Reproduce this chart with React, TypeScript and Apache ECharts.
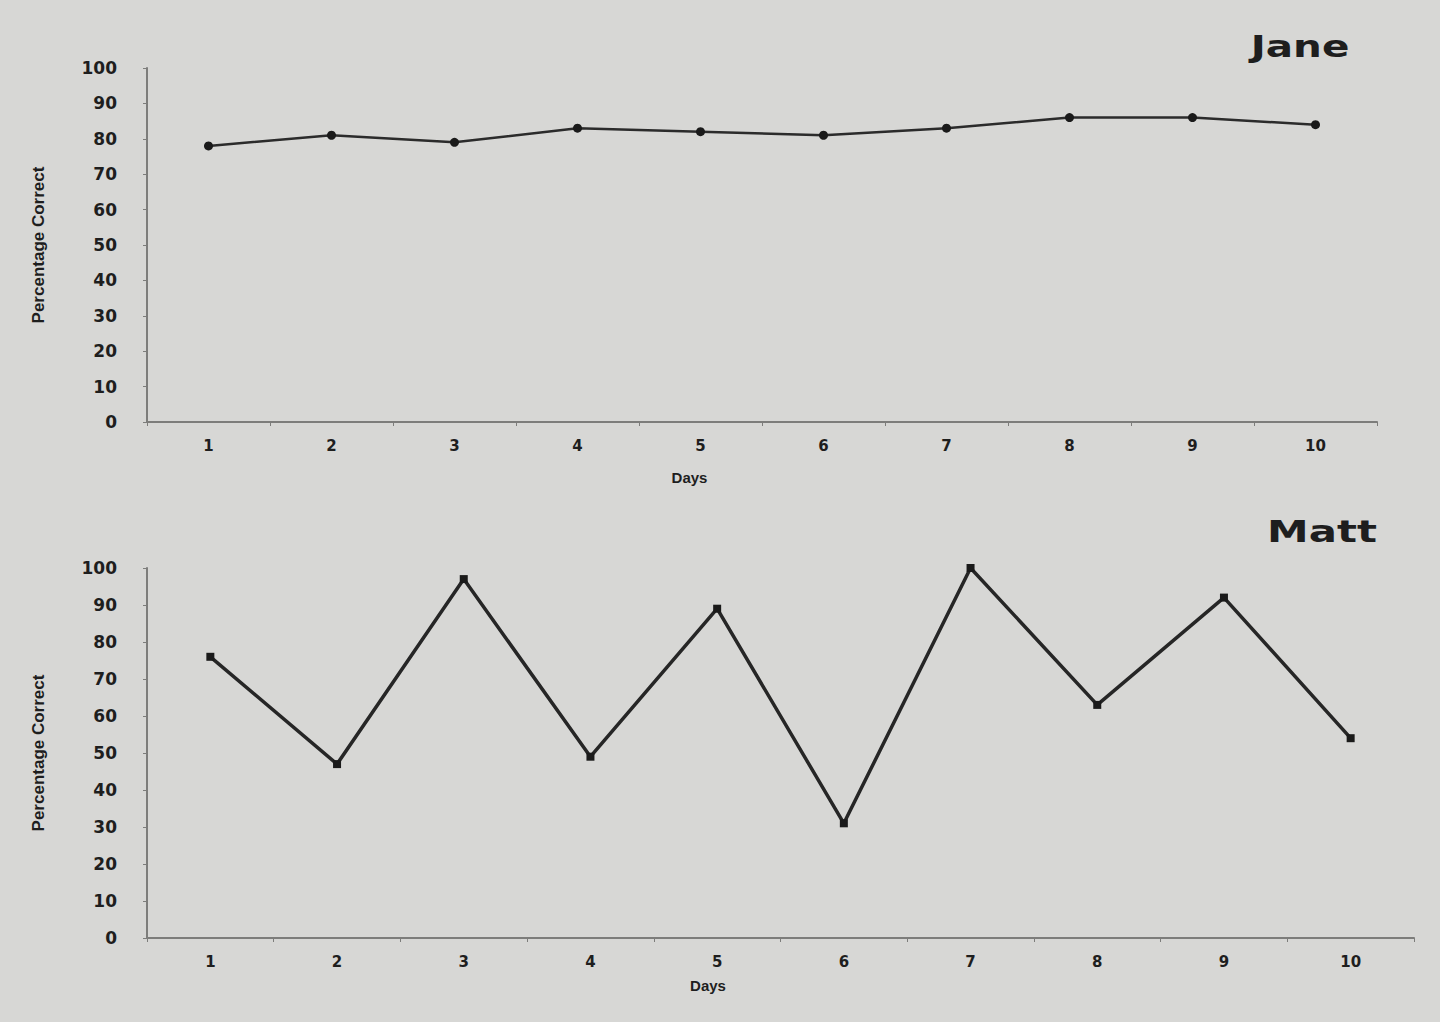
import React, { useEffect, useRef } from "react";
import * as echarts from "echarts";

const days = ["1", "2", "3", "4", "5", "6", "7", "8", "9", "10"];
const janeValues = [78, 81, 79, 83, 82, 81, 83, 86, 86, 84];
const mattValues = [76, 47, 97, 49, 89, 31, 100, 63, 92, 54];
const yTicks = { min: 0, max: 100, interval: 10 };
const titles = ["Jane", "Matt"];
const yName = "Percentage Correct";
const xName = "Days";

const ink = "#1e1e1e";
const axisGray = "#7d7d7b";
const paper = "#d7d7d5";

export default function App() {
  const ref = useRef<HTMLDivElement>(null);
  useEffect(() => {
    if (!ref.current) return;
    document.body.style.background = paper;
    const chart = echarts.init(ref.current, undefined, { renderer: "svg" });
    const grids = [
      { left: 139, top: 60, width: 1230, height: 354 },
      { left: 139, top: 560, width: 1267, height: 370 },
    ];
    const nameGaps = [48, 40];
    const xAxis = grids.map((_, i) => ({
      type: "category",
      gridIndex: i,
      data: days,
      boundaryGap: true,
      name: xName,
      nameLocation: "middle",
      nameGap: nameGaps[i],
      nameTextStyle: {
        color: ink,
        fontSize: 15,
        fontWeight: "bold",
        fontFamily: "Liberation Sans Narrow, Liberation Sans, sans-serif",
        padding: [0, 145, 0, 0],
      },
      axisLine: { show: true, lineStyle: { color: axisGray, width: 2 } },
      axisTick: { show: true, length: 4, lineStyle: { color: axisGray } },
      axisLabel: {
        color: ink,
        fontSize: 15,
        fontWeight: "bold",
        fontFamily: "DejaVu Sans, sans-serif",
        margin: 16,
      },
      splitLine: { show: false },
    }));
    const yAxis = grids.map((_, i) => ({
      type: "value",
      gridIndex: i,
      min: yTicks.min,
      max: yTicks.max,
      interval: yTicks.interval,
      name: yName,
      nameLocation: "middle",
      nameGap: 100,
      nameTextStyle: {
        color: ink,
        fontSize: 17,
        fontWeight: "bold",
        fontFamily: "Liberation Sans Narrow, Liberation Sans, sans-serif",
      },
      axisLine: { show: true, lineStyle: { color: axisGray, width: 2 } },
      axisTick: { show: true, length: 4, lineStyle: { color: axisGray } },
      axisLabel: {
        color: ink,
        fontSize: 17,
        fontWeight: "bold",
        fontFamily: "DejaVu Sans, sans-serif",
        margin: 30,
      },
      splitLine: { show: false },
    }));
    const titleText = (text: string, x: number, y: number, size: number) => ({
      type: "text",
      x,
      y,
      scaleX: 1.35,
      style: {
        text,
        fill: ink,
        font: `bold ${size}px "DejaVu Sans", sans-serif`,
        align: "center",
        verticalAlign: "middle",
      },
    });
    chart.setOption({
      animation: false,
      backgroundColor: paper,
      graphic: [
        titleText(titles[0], 1292, 38, 30),
        titleText(titles[1], 1314, 523, 31),
      ],
      grid: grids,
      xAxis,
      yAxis,
      series: [
        {
          name: titles[0],
          type: "line",
          xAxisIndex: 0,
          yAxisIndex: 0,
          data: janeValues,
          symbol: "circle",
          symbolSize: 9,
          lineStyle: { color: "#2b2b2b", width: 2.5 },
          itemStyle: { color: "#1a1a1a" },
        },
        {
          name: titles[1],
          type: "line",
          xAxisIndex: 1,
          yAxisIndex: 1,
          data: mattValues,
          symbol: "rect",
          symbolSize: 8,
          lineStyle: { color: "#262626", width: 3.5 },
          itemStyle: { color: "#1a1a1a" },
        },
      ],
    });
    return () => chart.dispose();
  }, []);
  return <div ref={ref} style={{ width: 1424, height: 1006 }} />;
}
